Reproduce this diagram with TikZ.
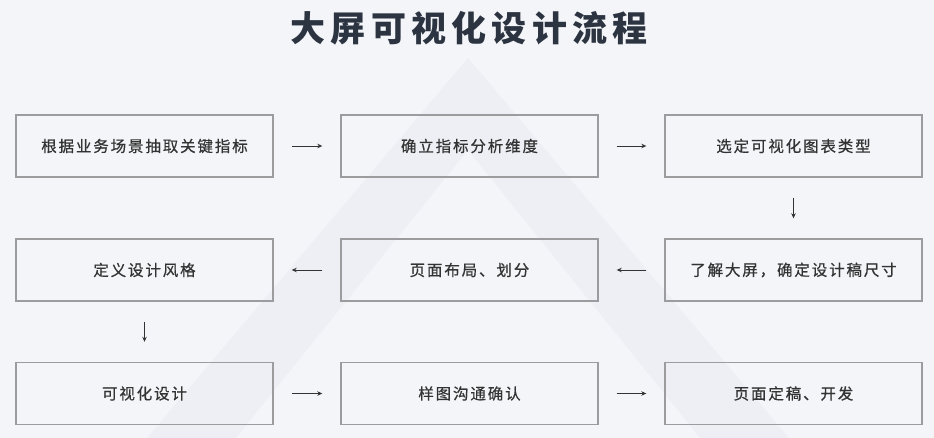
\documentclass[tikz,border=0pt]{standalone}
\usepackage{fontspec}
\newfontfamily\cjk[LetterSpace=12,FakeBold=0.6]{Noto Sans CJK SC}
\newfontfamily\cjktitle[LetterSpace=15]{Noto Sans CJK SC}
\usetikzlibrary{arrows.meta}
\definecolor{bg}{HTML}{F4F5F9}
\definecolor{wm}{HTML}{EEEFF4}
\definecolor{boxline}{HTML}{9C9C9E}
\definecolor{txt}{HTML}{333333}
\definecolor{ttl}{HTML}{2B3440}
\tikzset{
  stepbox/.style={draw=boxline, line width=1.4pt, minimum width=257pt, minimum height=62pt,
    inner sep=0pt, text=txt, font=\cjk\fontsize{15.5}{18}\selectfont},
  arr/.style={draw=txt, line width=0.9pt, -{Stealth[length=5pt,width=4.5pt]},
    shorten <=18pt, shorten >=18pt},
  varr/.style={draw=txt, line width=0.9pt, -{Stealth[length=5pt,width=4.5pt]},
    shorten <=20pt, shorten >=20pt}
}
\begin{document}
\begin{tikzpicture}[x=1pt,y=-1pt]
\fill[bg] (0,0) rectangle (934,438);
\useasboundingbox (0,0) rectangle (934,438);
% faint watermark triangle
\fill[wm, even odd rule] (468,58) -- (120,470) -- (816,470) -- cycle
  (468,150) -- (210,470) -- (726,470) -- cycle;
\node[text=ttl, font=\cjktitle\bfseries\fontsize{35}{40}\selectfont] (title) at (469,28) {大屏可视化设计流程};
% row 1
\node[stepbox] (b1) at (144.5,146) {根据业务场景抽取关键指标};
\node[stepbox] (b2) at (469.5,146) {确立指标分析维度};
\node[stepbox] (b3) at (793.5,146) {选定可视化图表类型};
% row 2
\node[stepbox] (b4) at (793.5,270) {了解大屏，确定设计稿尺寸};
\node[stepbox] (b5) at (469.5,270) {页面布局、划分};
\node[stepbox] (b6) at (144.5,270) {定义设计风格};
% row 3
\node[stepbox] (b7) at (144.5,393.5) {可视化设计};
\node[stepbox] (b8) at (469.5,393.5) {样图沟通确认};
\node[stepbox] (b9) at (793.5,393.5) {页面定稿、开发};
% connectors
\draw[arr] (b1) -- (b2);
\draw[arr] (b2) -- (b3);
\draw[varr] (b3) -- (b4);
\draw[arr] (b4) -- (b5);
\draw[arr] (b5) -- (b6);
\draw[varr] (b6) -- (b7);
\draw[arr] (b7) -- (b8);
\draw[arr] (b8) -- (b9);
\end{tikzpicture}
\end{document}
